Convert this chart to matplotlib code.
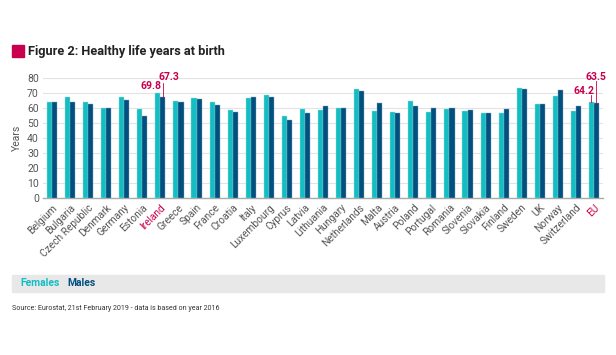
import matplotlib
matplotlib.use("Agg")
import matplotlib.pyplot as plt
import numpy as np

plt.rcParams['font.family'] = ['Roboto', 'DejaVu Sans']

countries = ["Belgium", "Bulgaria", "Czech Republic", "Denmark", "Germany", "Estonia",
             "Ireland", "Greece", "Spain", "France", "Croatia", "Italy", "Luxembourg",
             "Cyprus", "Latvia", "Lithuania", "Hungary", "Netherlands", "Malta", "Austria",
             "Poland", "Portugal", "Romania", "Slovenia", "Slovakia", "Finland", "Sweden",
             "UK", "Norway", "Switzerland", "EU"]
females = [63.6, 67.1, 63.6, 60.0, 67.1, 59.1, 69.8, 64.7, 66.4, 64.2, 58.5, 66.6, 68.6,
           54.7, 59.1, 58.5, 60.0, 72.4, 57.8, 57.1, 64.7, 57.4, 59.1, 57.8, 56.7, 56.7,
           73.3, 62.7, 68.0, 57.8, 64.2]
males = [63.6, 63.6, 62.5, 60.0, 65.1, 54.3, 67.3, 63.6, 66.0, 62.0, 57.1, 67.1, 67.3,
         52.0, 56.3, 61.3, 59.6, 71.1, 62.9, 56.7, 61.3, 60.0, 59.6, 58.7, 56.3, 59.1,
         72.8, 62.7, 71.7, 60.9, 63.5]
highlight = ["Ireland", "EU"]
yticks = [0, 10, 20, 30, 40, 50, 60, 70, 80]

TEAL = "#14BDC2"
NAVY = "#01507F"
CRIMSON = "#C8004E"
GRAY = "#555555"

fig = plt.figure(figsize=(6.16, 3.55), dpi=100)
ax = fig.add_axes([43/616, 1-198.3/355, 560/616, 120.6/355])

x = np.arange(len(countries))
w = 0.28
ax.bar(x - w/2, females, width=w, color=TEAL, edgecolor="#9ADFE2", linewidth=0.3, zorder=3)
ax.bar(x + w/2, males, width=w, color=NAVY, edgecolor="#7FA3BD", linewidth=0.3, zorder=3)

ax.set_xlim(-0.5, len(countries) - 0.5)
ax.set_ylim(0, 80)
ax.set_yticks(yticks)
ax.set_yticklabels([str(v) for v in yticks], fontsize=7.5, color=GRAY)
ax.yaxis.grid(True, color="#E3E3E3", linewidth=0.8, zorder=0)
ax.set_axisbelow(True)
for s in ["top", "right", "left"]:
    ax.spines[s].set_visible(False)
ax.spines["bottom"].set_color("#AAAAAA")
ax.spines["bottom"].set_linewidth(1.0)
ax.tick_params(axis="both", length=0, pad=3)
ax.set_ylabel("Years", fontsize=7.5, color=GRAY, labelpad=4)

ax.set_xticks(x)
ax.set_xticklabels(countries, rotation=45, ha="right", rotation_mode="anchor",
                   fontsize=7.3, color=GRAY)
for lbl in ax.get_xticklabels():
    if lbl.get_text() in highlight:
        lbl.set_color(CRIMSON)

# annotations
iI = countries.index("Ireland")
iE = countries.index("EU")
ann_kw = dict(color=CRIMSON, fontsize=7.5, fontweight="bold", clip_on=False, zorder=5)
ax.text(iI - w/2 - 0.38, 74.2, f"{females[iI]:.1f}", ha="center", va="center", **ann_kw)
ax.text(iI + w/2 + 0.33, 80.2, f"{males[iI]:.1f}", ha="center", va="center", **ann_kw)
ax.plot([iI + w/2, iI + w/2], [males[iI], 76.5], color=CRIMSON, lw=0.6, clip_on=False, zorder=4)
ax.text(iE - w/2 - 0.41, 71.5, f"{females[iE]:.1f}", ha="center", va="center", **ann_kw)
ax.plot([iE - w/2, iE - w/2], [females[iE], 68.5], color=CRIMSON, lw=0.6, clip_on=False, zorder=4)
ax.text(iE + w/2 - 0.05, 80.4, f"{males[iE]:.1f}", ha="center", va="center", **ann_kw)
ax.plot([iE + w/2, iE + w/2], [males[iE], 77.5], color=CRIMSON, lw=0.6, clip_on=False, zorder=4)

# title
fig.patches.append(plt.Rectangle((12/616, 1-57/355), 12/616, 12/355, transform=fig.transFigure,
                                 color=CRIMSON, figure=fig))
fig.text(28/616, 1-51.5/355, "Figure 2: Healthy life years at birth", fontsize=9.2,
         fontweight="bold", color="#222222", ha="left", va="center")

# legend band
fig.patches.append(plt.Rectangle((12/616, 1-292/355), 592/616, 17/355, transform=fig.transFigure,
                                 color="#E8E8E8", figure=fig, zorder=0))
fig.text(20/616, 1-283.5/355, "Females", fontsize=7.5, fontweight="bold", color=TEAL,
         ha="left", va="center")
fig.text(67/616, 1-283.5/355, "Males", fontsize=7.5, fontweight="bold", color=NAVY,
         ha="left", va="center")

fig.text(12/616, 1-308.5/355, "Source: Eurostat, 21st February 2019 - data is based on year 2016",
         fontsize=5.1, color="#333333", ha="left", va="center")

fig.savefig("out.png", dpi=100)
